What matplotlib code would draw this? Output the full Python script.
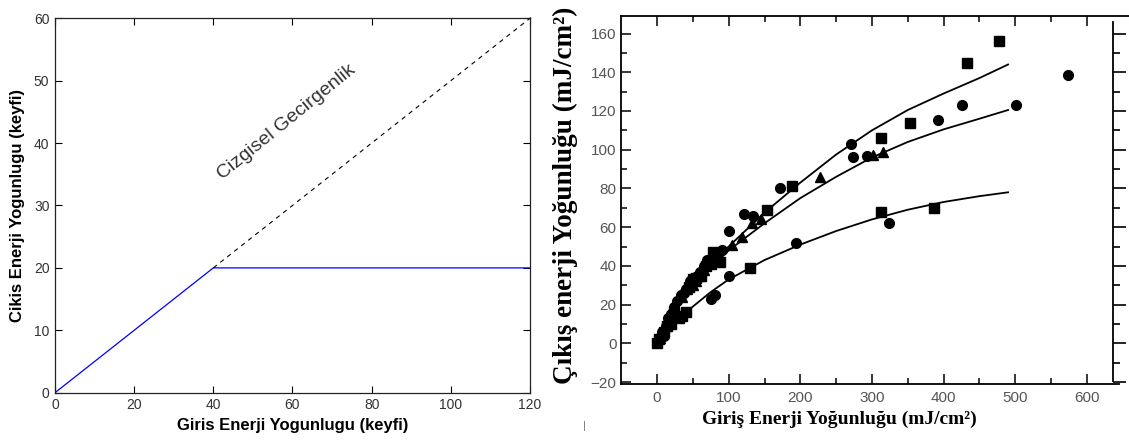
import matplotlib
matplotlib.use("Agg")
import matplotlib.pyplot as plt
from matplotlib.ticker import FixedLocator

plt.rcParams["font.family"] = ["Liberation Sans", "DejaVu Sans"]

# Left panel: ideal limiter (arbitrary units)
lim_in = [0, 40, 120]
lim_out = [0, 20, 20]
lin_in = [40, 121]
lin_out = [20, 60.5]

# Right panel: measured output vs input fluence (mJ/cm^2)
sq_x = [0, 3, 8, 10, 14, 18, 20, 24, 30, 35, 40, 45, 50, 55, 62, 68, 75, 78, 82, 88,
        130, 154, 188, 312, 312, 353, 387, 432, 478]
sq_y = [0, 2, 5, 6, 9, 12, 10, 16, 13, 14, 16, 29, 33, 34, 35, 40, 41, 47, 44, 42,
        39, 69, 81, 68, 106, 114, 70, 145, 156]

ci_x = [5, 7, 10, 12, 15, 20, 24, 28, 33, 37, 41, 46, 50, 56, 60, 65, 70, 76, 81, 84, 90,
        101, 101, 121, 134, 172, 194, 271, 273, 293, 324, 392, 425, 501, 573]
ci_y = [4, 6, 4, 9, 13, 15, 19, 22, 25, 26, 28, 32, 33, 35, 37, 40, 43, 23, 25, 45, 48,
        58, 35, 67, 66, 80, 52, 103, 96, 97, 62, 115.5, 123, 123, 138.5]

tr_x = [4, 12, 17, 22, 25, 35, 42, 50, 55, 60, 66, 73, 80, 86, 104, 119, 132, 145, 228, 301, 316]
tr_y = [3, 9, 12, 15, 18, 24, 28, 30, 32, 35, 38, 44, 46, 43, 51, 55, 62, 64, 86, 97.5, 99]

# fitted curves
fit_x = [0, 10, 25, 50, 75, 100, 150, 200, 250, 300, 350, 400, 450, 490]
fit_upper = [0, 11, 20, 31, 41, 50, 67.5, 83, 97.5, 110, 120.5, 129, 137, 144]
fit_middle = [0, 10, 19, 30, 39, 48, 62, 75, 86, 96, 104, 110.5, 116, 120.5]
fit_lower = [0, 5, 11, 19, 26.5, 33, 43, 51, 58, 64, 69, 73, 76, 78]

fig = plt.figure(figsize=(11.29, 4.46), dpi=100)

# ---------------- left panel ----------------
ax1 = fig.add_axes([0.0487, 0.1195, 0.4207, 0.8395])
ax1.plot(lim_in, lim_out, color="#0000ff", lw=0.9)
ax1.plot(lin_in, lin_out, color="black", lw=0.8, ls=(0, (4, 4)), clip_on=False)
ax1.set_xlim(0, 120)
ax1.set_ylim(0, 60)
ax1.set_xticks(range(0, 121, 20))
ax1.set_yticks(range(0, 61, 10))
ax1.tick_params(direction="in", top=True, right=True, length=5, width=0.8,
                labelsize=10, labelcolor="#333333", pad=4)
for s in ax1.spines.values():
    s.set_linewidth(0.9)
    s.set_color("#222222")
ax1.set_xlabel("Giris Enerji Yogunlugu (keyfi)", fontsize=12, fontweight="bold")
ax1.set_ylabel("Cikis Enerji Yogunlugu (keyfi)", fontsize=12, fontweight="bold", labelpad=6)
ax1.text(58.6, 43.4, "Cizgisel Gecirgenlik", rotation=39, ha="center", va="center",
         rotation_mode="anchor", fontsize=14, color="#333333")

# ---------------- right panel ----------------
ax2 = fig.add_axes([0.5498, 0.139, 0.4502, 0.8258])
ax2.plot(fit_x, fit_upper, color="black", lw=1.3)
ax2.plot(fit_x, fit_middle, color="black", lw=1.3)
ax2.plot(fit_x, fit_lower, color="black", lw=1.3)
ax2.plot(sq_x, sq_y, "s", color="black", ms=6.5, ls="none")
ax2.plot(ci_x, ci_y, "o", color="black", ms=7, ls="none")
ax2.plot(tr_x, tr_y, "^", color="black", ms=7, ls="none")

ax2.set_xlim(-50.7, 658.8)
ax2.set_ylim(-21.0, 169.2)
ax2.xaxis.set_major_locator(FixedLocator(range(0, 601, 100)))
ax2.xaxis.set_minor_locator(FixedLocator(range(50, 551, 100)))
ax2.yaxis.set_major_locator(FixedLocator(range(-20, 161, 20)))
ax2.yaxis.set_minor_locator(FixedLocator(range(-10, 151, 20)))

ax2.spines["right"].set_visible(False)
ax2.spines["bottom"].set_bounds(-50.7, 645)
for s in ["left", "top", "bottom"]:
    ax2.spines[s].set_linewidth(1.3)

# inner right axis line with outward ticks
ax3 = ax2.twinx()
ax3.set_ylim(-21.0, 169.2)
ax3.yaxis.set_major_locator(FixedLocator(range(-20, 161, 20)))
ax3.yaxis.set_minor_locator(FixedLocator(range(-10, 151, 20)))
for s in ["left", "top", "bottom"]:
    ax3.spines[s].set_visible(False)
ax3.spines["right"].set_position(("data", 636))
ax3.spines["right"].set_bounds(-19.5, 166)
ax3.spines["right"].set_linewidth(1.3)
ax3.tick_params(axis="y", which="major", direction="out", length=9, width=1.2, labelright=False)
ax3.tick_params(axis="y", which="minor", direction="out", length=5, width=1.2)

ax2.tick_params(which="both", direction="in", top=True, bottom=True, left=True, right=False,
                width=1.1, labelsize=11, labelcolor="#555555")
ax2.tick_params(which="major", length=7, pad=5)
ax2.tick_params(which="minor", length=4)
ax2.tick_params(axis="y", pad=3)

ax2.set_xlabel("Giriş Enerji Yoğunluğu (mJ/cm²)", fontfamily="Liberation Serif",
               fontweight="bold", fontsize=14)
ax2.xaxis.set_label_coords(839 / 1129, 1 - 411 / 446, transform=fig.transFigure)
ax2.set_ylabel("Çıkış enerji Yoğunluğu (mJ/cm²)", fontfamily="Liberation Serif",
               fontweight="bold", fontsize=19.5, va="center")
ax2.yaxis.set_label_coords(565 / 1129, 1 - 195 / 446, transform=fig.transFigure)

# small stray mark below the right panel
fig.text(584 / 1129, 1 - 426 / 446, "|", fontsize=8, color="#777777", ha="center", va="center")

fig.savefig("out.png", dpi=100)
